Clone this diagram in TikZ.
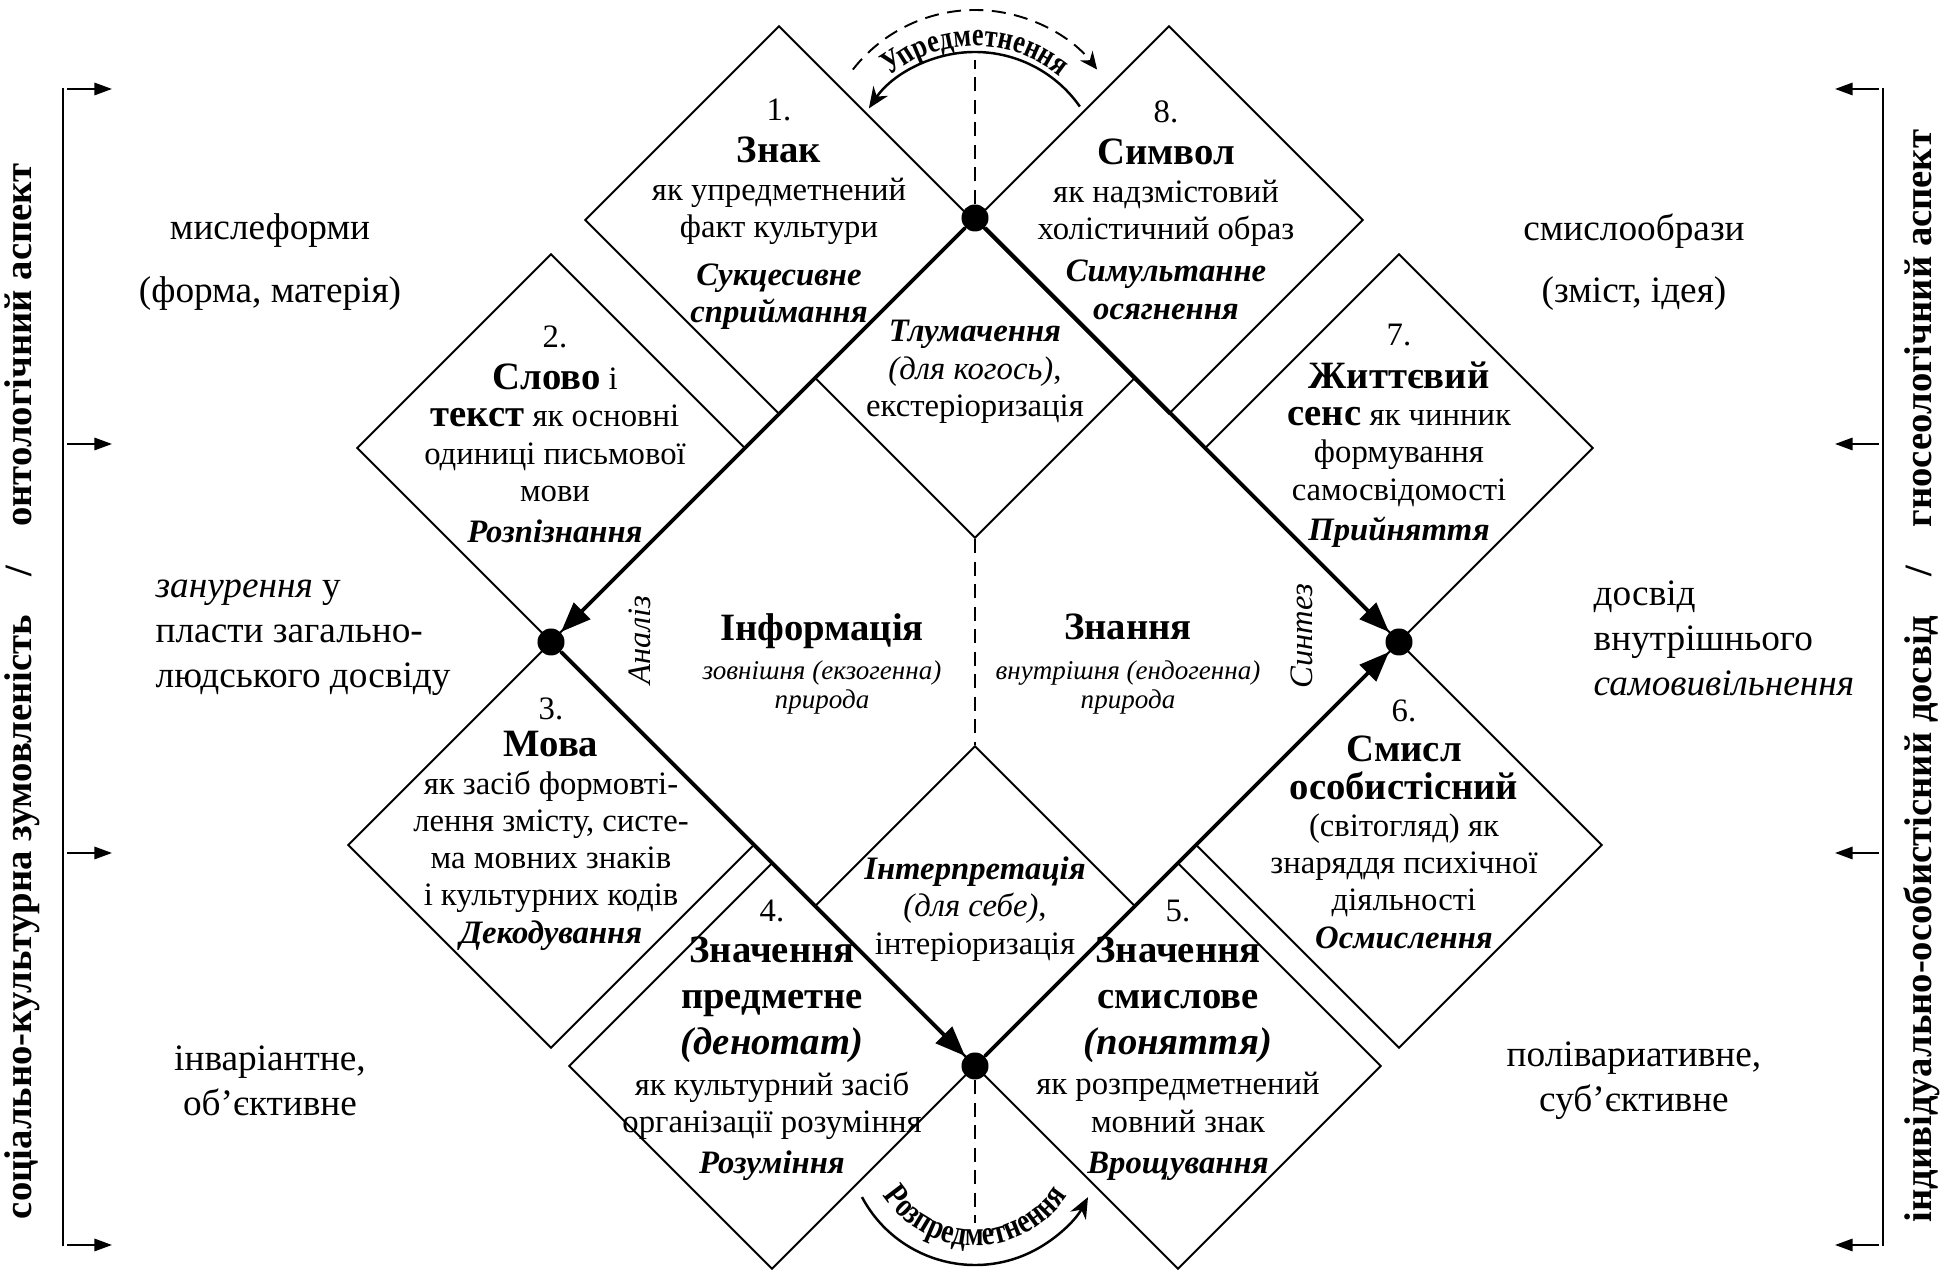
\documentclass[tikz,border=0pt]{standalone}
\usepackage{fontspec}
\setmainfont{Liberation Serif}
\newfontfamily\arcfont[FakeStretch=0.8]{Liberation Serif}
\usetikzlibrary{arrows.meta,shapes.geometric,decorations.text,positioning,calc}
\newcommand\ttl{\fontsize{11}{12}\selectfont\bfseries}
\newcommand\bit{\bfseries\itshape}
\tikzset{
  dmd/.style={draw, diamond, aspect=1, inner sep=0pt, line width=.55pt, minimum size=#1},
  dot/.style={circle, fill, inner sep=0pt, minimum size=.27cm},
  txt/.style={align=center, inner sep=0pt, font=\fontsize{9.3}{10.6}\selectfont},
  outer/.style={align=center, inner sep=0pt, font=\fontsize{10.6}{12.8}\selectfont},
  small/.style={align=center, inner sep=0pt, font=\fontsize{7.7}{8.3}\selectfont\itshape},
  side/.style={rotate=90, inner sep=0pt, font=\fontsize{11}{12}\selectfont\bfseries},
  main/.style={line width=1.1pt},
  tip/.style={-{Triangle[length=8.5pt,width=6.5pt]}},
  dashln/.style={line width=.55pt, dash pattern=on 4pt off 2.4pt}
}
\begin{document}
\begin{tikzpicture}[x=0.01cm, y=-0.01cm]
\useasboundingbox (0,0) rectangle (1944,1271);

% small diamonds
\node[dmd=3.88cm] (d1) at (779,220) {};
\node[dmd=3.88cm] (d8) at (1169,220) {};
\node[dmd=3.88cm] (d2) at (551,448) {};
\node[dmd=3.88cm] (d7) at (1399,448) {};
\node[dmd=4.06cm] (d3) at (551,845) {};
\node[dmd=4.06cm] (d6) at (1399,845) {};
\node[dmd=4.06cm] (d4) at (772,1066) {};
\node[dmd=4.06cm] (d5) at (1178,1066) {};
\node[dmd=3.2cm] (it) at (975,378) {};
\node[dmd=3.2cm] (ib) at (975,906) {};

% corners of the big diamond
\node[dot] (T) at (975,218) {};
\node[dot] (L) at (551,642) {};
\node[dot] (R) at (1399,642) {};
\node[dot] (B) at (975,1066) {};

\draw[main, tip] (T) -- (L);
\draw[main, tip] (L) -- (B);
\draw[main, tip] (B) -- (R);
\draw[main, tip] (T) -- (R);

% axis
\coordinate (axtop) at (975,60);
\coordinate (axbot) at (975,1223);
\draw[dashln] (T) -- (axtop);
\draw[dashln] (it.south) -- (ib.north);
\draw[dashln] (B) -- (axbot);

% arcs
\coordinate (up) at (975,165);
\coordinate (up2) at (975,180);
\coordinate (dn) at (975,1137);
\draw[dashln, -{Stealth[length=5pt,width=4.5pt]}] ([shift={(-142:155)}]up) arc[start angle=-142, end angle=-38, radius=155];
\draw[line width=.7pt, -{Stealth[length=6pt,width=5pt]}] ([shift={(-35:128)}]up2) arc[start angle=-35, end angle=-146, radius=128];
\path[decorate, decoration={text along path, text align=center,
  text={|\arcfont\fontsize{9.3}{10}\selectfont\bfseries|{Уп}редметнення}}]
  ([shift={(-145:134)}]up2) arc[start angle=-145, end angle=-35, radius=134];
\draw[line width=.7pt, -{Stealth[length=6pt,width=5pt]}] ([shift={(152:128)}]dn) arc[start angle=152, end angle=28, radius=128];
\path[decorate, decoration={text along path, text align=center,
  text={|\arcfont\fontsize{9.8}{10}\selectfont\bfseries|Розпредметнення}}]
  ([shift={(165:109)}]dn) arc[start angle=165, end angle=15, radius=109];

% texts in the diamonds
\node[txt] (t1) at (779,214) {1.\\[1.5pt] {\ttl Знак}\\ як упредметнений\\ факт культури\\[3pt] {\bit Сукцесивне}\\ {\bit сприймання}};
\node[txt] (t8) at (1166,210) {8.\\[1.5pt] {\ttl Символ}\\ як надзмістовий\\ холістичний образ\\[1.5pt] {\bit Симультанне}\\ {\bit осягнення}};
\node[txt] (t2) at (555,434) {2.\\[1.5pt] {\ttl Слово} і\\ {\ttl текст} як основні\\ одиниці письмової\\ мови\\[1pt] {\bit Розпізнання}};
\node[txt] (t7) at (1399,436) {7.\\[1.5pt] {\ttl Життєвий}\\ {\ttl сенс} як чинник\\ формування\\ самосвідомості\\[1pt] {\bit Прийняття}};
\node[txt] (t3) at (551,824) {3.\\ {\ttl Мова}\\ як засіб формовті-\\ лення змісту, систе-\\ ма мовних знаків\\ і культурних кодів\\ {\bit Декодування}};
\node[txt] (t6) at (1404,824) {6.\\[1pt] {\ttl Смисл}\\ {\ttl особистісний}\\ (світогляд) як\\ знаряддя психічної\\ діяльності\\ {\bit Осмислення}};
\node[txt] (t4) at (772,1040) {4.\\[1pt] {\ttl Значення}\\[2.5pt] {\ttl предметне}\\[2.5pt] {\ttl\itshape (денотат)}\\[1pt] як культурний засіб\\ організації розуміння\\[1pt] {\bit Розуміння}};
\node[txt] (t5) at (1178,1040) {5.\\[1pt] {\ttl Значення}\\[2.5pt] {\ttl смислове}\\[2.5pt] {\ttl\itshape (поняття)}\\[1pt] як розпредметнений\\ мовний знак\\[1pt] {\bit Врощування}};
\node[txt] (ti) at (975,372) {{\bit Тлумачення}\\ \textit{(для когось)},\\ екстеріоризація};
\node[txt] (tb) at (975,909) {{\bit Інтерпретація}\\ \textit{(для себе)},\\ інтеріоризація};

% middle
\node[small] (info) at (822,664) {{\ttl\upshape Інформація}\\[3pt] зовнішня (екзогенна)\\ природа};
\node[small] (know) at (1128,664) {{\ttl\upshape Знання}\\[3pt] внутрішня (ендогенна)\\ природа};
\node[txt, rotate=90, font=\fontsize{9.3}{10.4}\selectfont\itshape] (an) at (640,640) {Аналіз};
\node[txt, rotate=90, font=\fontsize{9.3}{10.4}\selectfont\itshape] (sy) at (1302,636) {Синтез};

% outer labels
\node[outer] (lf) at (270,262) {мислеформи\\[5pt] (форма, матерія)};
\node[outer] (rf) at (1634,262) {смислообрази\\[5pt] (зміст, ідея)};
\node[outer, align=left, anchor=west] (lm) at (155,638) {\textit{занурення} у\\ пласти загально-\\ людського досвіду};
\node[outer, align=left, anchor=west] (rm) at (1593,638) {досвід\\ внутрішнього\\ \textit{самовивільнення}};
\node[outer] (lb) at (270,1081) {інваріантне,\\ об’єктивне};
\node[outer] (rb) at (1634,1081) {полівариативне,\\ суб’єктивне};

% side brackets
\draw[line width=.8pt] (63,88) -- (63,1246);
\draw[line width=.8pt] (1883,88) -- (1883,1246);
\foreach \y in {89,444,853,1245} {
  \draw[line width=.6pt, -{Triangle[length=5pt,width=3.5pt]}] (67,\y) -- (112,\y);
  \draw[line width=.6pt, -{Triangle[length=5pt,width=3.5pt]}] (1879,\y) -- (1835,\y);
}
\node[side] (ls) at (22,691) {соціально-культурна зумовленість\hspace{1em}/\hspace{1em}онтологічний аспект};
\node[side] (rs) at (1922,676) {індивідуально-особистісний досвід\hspace{1em}/\hspace{1em}гносеологічний аспект};
\end{tikzpicture}
\end{document}
